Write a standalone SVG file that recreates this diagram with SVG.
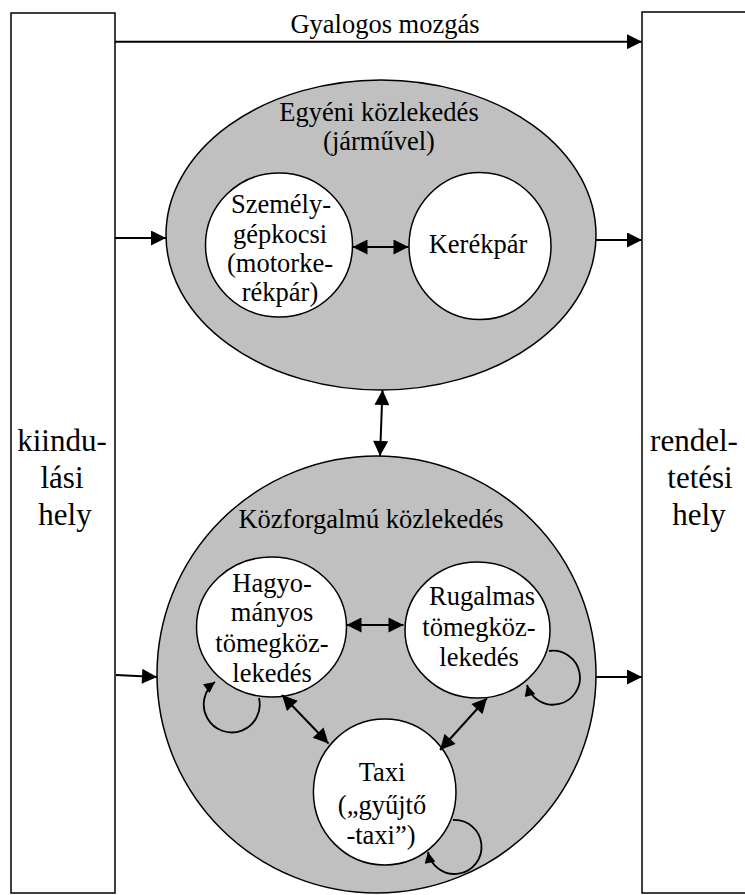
<svg xmlns="http://www.w3.org/2000/svg" width="745" height="895" viewBox="0 0 745 895">
<style>
.box{fill:#fff;stroke:#000;stroke-width:1.5}
.big{fill:#c0c0c0;stroke:#000;stroke-width:1.5}
.small{fill:#fff;stroke:#000;stroke-width:1.5}
text{font-family:"Liberation Serif","Times New Roman","DejaVu Serif",serif;fill:#000;text-anchor:middle}
.t{font-size:26.5px}
.tl{font-size:31px}
.a{fill:none;stroke:#000;stroke-width:2;marker-end:url(#ah)}
.d{fill:none;stroke:#000;stroke-width:2;marker-end:url(#ah);marker-start:url(#ah)}
.l{fill:none;stroke:#000;stroke-width:1.8;marker-end:url(#ahs)}
</style>
<defs>
<marker id="ah" viewBox="0 0 10 10" refX="10" refY="5" markerUnits="userSpaceOnUse" markerWidth="16" markerHeight="15" orient="auto-start-reverse">
<path d="M0,0 L10,5 L0,10 z" fill="#000"/>
</marker>
<marker id="ahs" viewBox="0 0 10 10" refX="10" refY="5" markerUnits="userSpaceOnUse" markerWidth="12" markerHeight="11" orient="auto">
<path d="M0,0 L10,5 L0,10 z" fill="#000"/>
</marker>
</defs>
<rect width="745" height="895" fill="#fff"/>
<g id="kiindulasi">
<rect class="box" x="11" y="13" width="104" height="880"/>
<text class="tl" x="62" y="451">kiindu-</text>
<text class="tl" x="62" y="488">lási</text>
<text class="tl" x="65" y="525">hely</text>
</g>
<g id="rendeltetesi">
<rect class="box" x="642" y="12" width="115" height="881"/>
<text class="tl" x="694" y="451">rendel-</text>
<text class="tl" x="700" y="488">tetési</text>
<text class="tl" x="699" y="525">hely</text>
</g>
<g id="egyeni">
<ellipse class="big" cx="381" cy="235" rx="215" ry="155"/>
<text class="t" x="379" y="121">Egyéni közlekedés</text>
<text class="t" x="379" y="150">(járművel)</text>
</g>
<g id="szemelygepkocsi">
<ellipse class="small" cx="279" cy="245" rx="73.5" ry="72"/>
<text class="t" x="281" y="213">Személy-</text>
<text class="t" x="280" y="243">gépkocsi</text>
<text class="t" x="280" y="272">(motorke-</text>
<text class="t" x="280" y="301">rékpár)</text>
</g>
<g id="kerekpar">
<ellipse class="small" cx="480" cy="246" rx="71" ry="73.5"/>
<text class="t" x="478" y="253">Kerékpár</text>
</g>
<g id="kozforgalmu">
<ellipse class="big" cx="376.5" cy="674.5" rx="219.5" ry="218.5"/>
<text class="t" x="371" y="528">Közforgalmú közlekedés</text>
</g>
<g id="hagyomanyos">
<ellipse class="small" cx="271.5" cy="627" rx="75" ry="70"/>
<text class="t" x="272" y="592">Hagyo-</text>
<text class="t" x="272" y="621">mányos</text>
<text class="t" x="272" y="652">tömegköz-</text>
<text class="t" x="272" y="682">lekedés</text>
</g>
<g id="rugalmas">
<ellipse class="small" cx="477.5" cy="630" rx="72.5" ry="68"/>
<text class="t" x="482" y="605">Rugalmas</text>
<text class="t" x="479" y="636">tömegköz-</text>
<text class="t" x="479" y="666">lekedés</text>
</g>
<g id="taxi">
<ellipse class="small" cx="384.7" cy="792" rx="71.3" ry="73"/>
<text class="t" x="382" y="781">Taxi</text>
<text class="t" x="382" y="814">(„gyűjtő</text>
<text class="t" x="381" y="844">-taxi”)</text>
</g>
<g id="connectors">
<text class="t" x="385" y="33">Gyalogos mozgás</text>
<path class="a" d="M115,41.7 L642,41.7"/>
<path class="a" d="M115,238 L166,238"/>
<path class="a" d="M596,240 L642,240"/>
<path class="d" d="M352.5,247 L408.5,247"/>
<path class="d" d="M382.5,390 L380,456"/>
<path class="a" d="M116,675 L157,677"/>
<path class="a" d="M596,677 L642,677"/>
<path class="d" d="M346.5,625 L403.5,625"/>
<path class="d" d="M282,695 L328.5,743.5"/>
<path class="d" d="M487,698 L440,750"/>
<path class="l" d="M259,698 A28,28 0 1 1 215,682"/>
<path class="l" d="M549,651 A27,27 0 1 1 527,685"/>
<path class="l" d="M453,820 A27,27 0 1 1 428,852"/>
</g>
</svg>
